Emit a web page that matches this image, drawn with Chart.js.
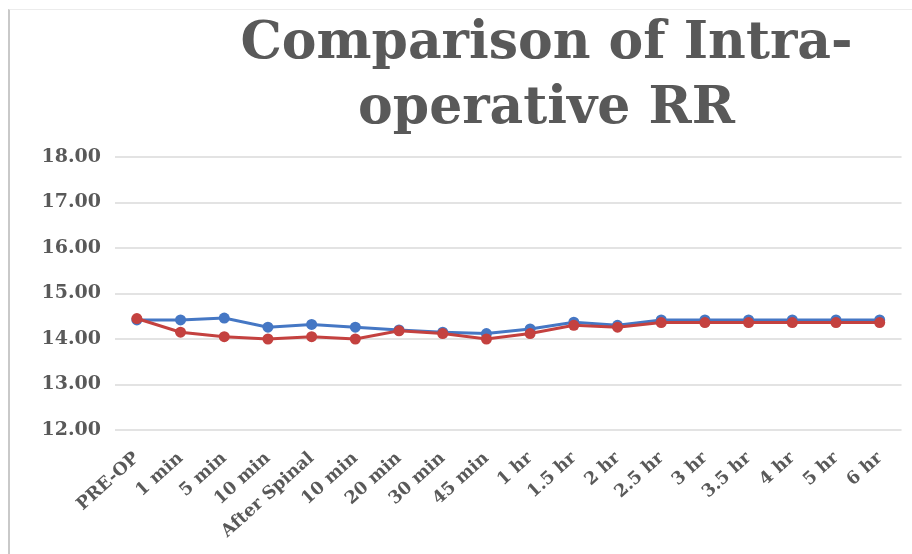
<!DOCTYPE html>
<html>
<head>
<meta charset="utf-8">
<script src="https://cdn.jsdelivr.net/npm/chart.js@4/dist/chart.umd.min.js"></script>
<style>
  html, body { margin: 0; padding: 0; background: #ffffff; }
  #wrap { position: relative; width: 912px; height: 554px; overflow: hidden; }
  #frame { position: absolute; left: 8px; top: 9px; width: 920px; height: 560px;
           border-left: 2px solid #c9c9c9; border-top: 1px solid #ececec; pointer-events: none; }
  canvas { position: absolute; left: 0; top: 0; }
</style>
</head>
<body>
<div id="wrap">
  <canvas id="c" width="912" height="554"></canvas>
  <div id="frame"></div>
</div>
<script>
const categories = ['PRE-OP', '1 min', '5 min', '10 min', 'After Spinal', '10 min', '20 min', '30 min', '45 min',
                    '1 hr', '1.5 hr', '2 hr', '2.5 hr', '3 hr', '3.5 hr', '4 hr', '5 hr', '6 hr'];
const groupBlue = [14.42, 14.42, 14.46, 14.26, 14.32, 14.26, 14.20, 14.15, 14.12,
                   14.22, 14.37, 14.30, 14.42, 14.42, 14.42, 14.42, 14.42, 14.42];
const groupRed  = [14.45, 14.15, 14.05, 14.00, 14.05, 14.00, 14.18, 14.12, 14.00,
                   14.12, 14.30, 14.26, 14.36, 14.36, 14.36, 14.36, 14.36, 14.36];
const yTicks = [12, 13, 14, 15, 16, 17, 18];
const titleLines = ['Comparison of Intra-', 'operative RR'];

const textColor = '#595959';

const titleShift = {
  id: 'titleShift',
  afterLayout(chart) {
    const t = chart.titleBlock;
    if (t) { t.left += 95; t.right += 95; }
  }
};

new Chart(document.getElementById('c'), {
  type: 'line',
  data: {
    labels: categories,
    datasets: [
      {
        label: 'Group 1',
        data: groupBlue,
        borderColor: '#4577c4',
        backgroundColor: '#4577c4',
        borderWidth: 3,
        pointRadius: 5.5,
        pointBorderWidth: 0,
        tension: 0,
        order: 1
      },
      {
        label: 'Group 2',
        data: groupRed,
        borderColor: '#c4413f',
        backgroundColor: '#c4413f',
        borderWidth: 3,
        pointRadius: 5.5,
        pointBorderWidth: 0,
        tension: 0,
        order: 0
      }
    ]
  },
  options: {
    responsive: false,
    animation: false,
    layout: { padding: { left: 0, right: 9, top: 0, bottom: 0 } },
    plugins: {
      legend: { display: false },
      tooltip: { enabled: false },
      title: {
        display: true,
        text: titleLines,
        color: textColor,
        font: { family: 'DejaVu Serif', weight: 'bold', size: 52, lineHeight: 1.25 },
        padding: { top: 12, bottom: 15 }
      }
    },
    scales: {
      x: {
        offset: true,
        grid: { display: false, drawTicks: false },
        border: { display: false },
        ticks: {
          autoSkip: false,
          minRotation: 42,
          maxRotation: 42,
          padding: 18,
          color: textColor,
          font: { family: 'DejaVu Serif', weight: 'bold', size: 17.5 }
        },
        afterFit(scale) { scale.height = 124; }
      },
      y: {
        min: yTicks[0],
        max: yTicks[yTicks.length - 1],
        afterBuildTicks(scale) { scale.ticks = yTicks.map(v => ({ value: v })); },
        grid: { color: '#e3e3e3', lineWidth: 2, drawTicks: false },
        border: { display: false },
        ticks: {
          padding: 14,
          color: textColor,
          font: { family: 'DejaVu Serif', weight: 'bold', size: 19 },
          callback: (v) => Number(v).toFixed(2)
        },
        afterFit(scale) { scale.width = 115; }
      }
    }
  },
  plugins: [titleShift]
});
</script>
</body>
</html>
